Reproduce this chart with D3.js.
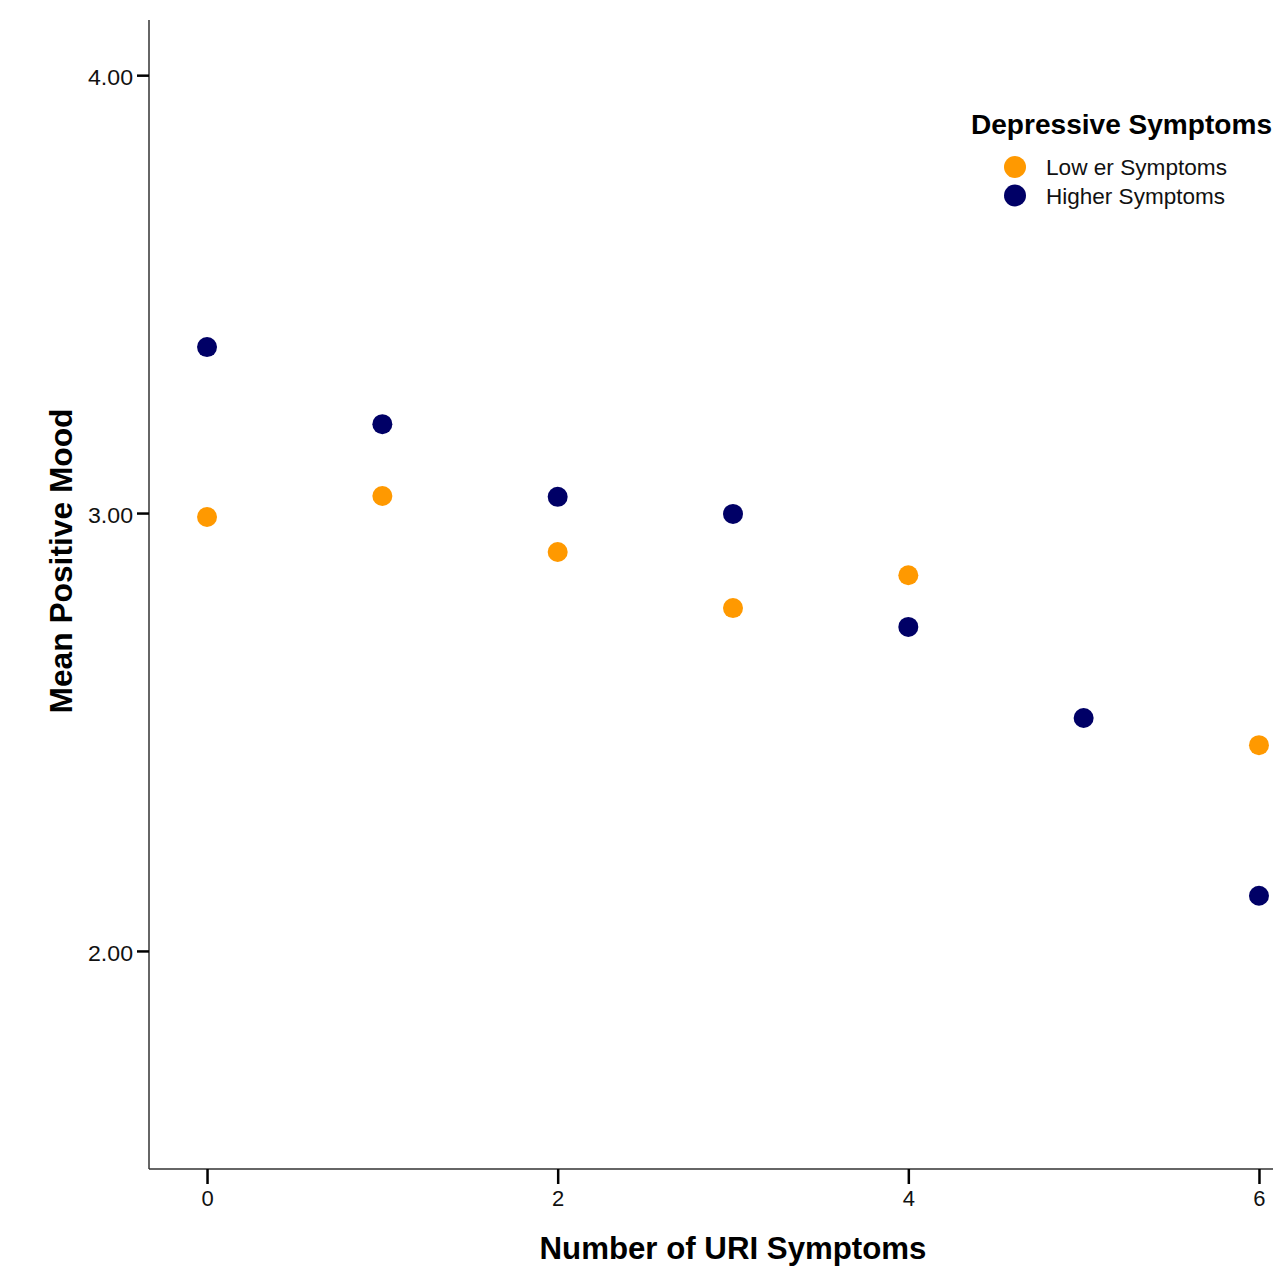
<!DOCTYPE html>
<html><head><meta charset="utf-8">
<script src="https://cdn.jsdelivr.net/npm/d3@7"></script>
<style>body{margin:0;background:#fff}svg{display:block}text{font-family:"Liberation Sans",Arial,sans-serif}</style>
</head><body>
<script>
const xCats = [0,1,2,3,4,5,6];
const lowerX = [0,1,2,3,4,6];
const lowerY = [2.991,3.039,2.911,2.783,2.858,2.470];
const higherX = [0,1,2,3,4,5,6];
const higherY = [3.379,3.203,3.037,2.998,2.740,2.532,2.126];
const xTicks = [0,2,4,6];
const yTicks = [2,3,4];
const seriesNames = ["Low er Symptoms","Higher Symptoms"];
const seriesColors = ["#FF9900","#000066"];

const W=1273,H=1267;
const svg=d3.select("body").append("svg").attr("width",W).attr("height",H);
const x=d3.scaleLinear().domain([-0.331,6.08]).range([149,1273]);
const y=d3.scaleLinear().domain([1.502,4.126]).range([1169,20]);

svg.append("line").attr("x1",149).attr("x2",149).attr("y1",20).attr("y2",1169).attr("stroke","#333").attr("stroke-width",1.5);
svg.append("line").attr("x1",149).attr("x2",1273).attr("y1",1169).attr("y2",1169).attr("stroke","#333").attr("stroke-width",1.5);

const ya=svg.append("g").attr("transform","translate(149,0)")
  .call(d3.axisLeft(y).tickValues(yTicks).tickFormat(d3.format(".2f")).tickSize(12).tickPadding(4));
ya.select(".domain").remove();
ya.selectAll("line").attr("stroke","#000").attr("stroke-width",2.5);
ya.selectAll("text").attr("font-size",22).attr("fill","#111").attr("dy","0.42em")
  .attr("textLength",45).attr("lengthAdjust","spacingAndGlyphs");

const xa=svg.append("g").attr("transform","translate(0,1169)")
  .call(d3.axisBottom(x).tickValues(xTicks).tickFormat(d3.format("d")).tickSize(15).tickPadding(6));
xa.select(".domain").remove();
xa.selectAll("line").attr("stroke","#000").attr("stroke-width",2.5);
xa.selectAll("text").attr("font-size",22).attr("fill","#111");

svg.append("text").attr("x",733).attr("y",1259).attr("text-anchor","middle")
  .attr("font-size",31).attr("font-weight","bold").attr("textLength",387).attr("lengthAdjust","spacingAndGlyphs")
  .text("Number of URI Symptoms");
svg.append("text").attr("transform","translate(72,561) rotate(-90)").attr("text-anchor","middle")
  .attr("font-size",31).attr("font-weight","bold").attr("textLength",305).attr("lengthAdjust","spacingAndGlyphs")
  .text("Mean Positive Mood");

const data=[lowerX.map((v,i)=>({x:v,y:lowerY[i],s:0})), higherX.map((v,i)=>({x:v,y:higherY[i],s:1}))];
data.forEach(arr=>{
  svg.append("g").selectAll("circle").data(arr).join("circle")
    .attr("cx",d=>x(d.x)).attr("cy",d=>y(d.y)).attr("r",10)
    .attr("fill",d=>seriesColors[d.s]);
});

svg.append("text").attr("x",971).attr("y",134).attr("font-size",27).attr("font-weight","bold")
  .attr("textLength",301).attr("lengthAdjust","spacingAndGlyphs").text("Depressive Symptoms");
const legLens=[181,179];
seriesNames.forEach((n,i)=>{
  svg.append("circle").attr("cx",1015).attr("cy",167+i*28.5).attr("r",11).attr("fill",seriesColors[i]);
  svg.append("text").attr("x",1046).attr("y",167+i*28.5).attr("dy","0.36em").attr("font-size",22.5).attr("fill","#111")
    .attr("textLength",legLens[i]).attr("lengthAdjust","spacingAndGlyphs").text(n);
});
</script>
</body></html>
